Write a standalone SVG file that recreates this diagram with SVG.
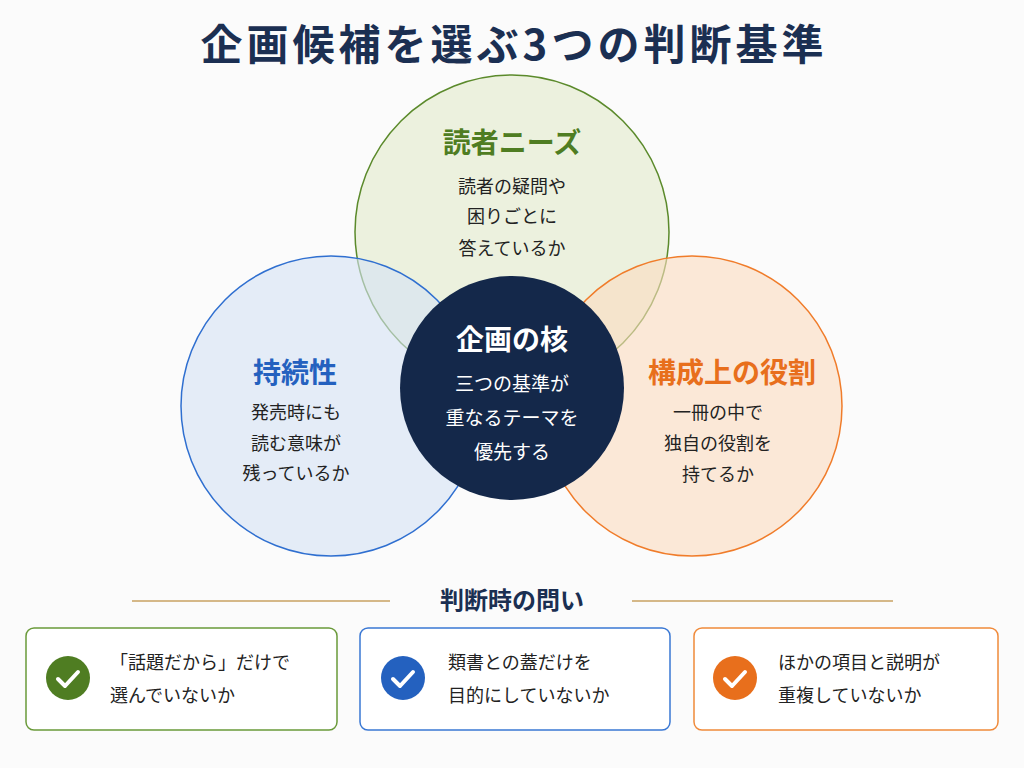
<svg xmlns="http://www.w3.org/2000/svg" width="1024" height="768" viewBox="0 0 1024 768">
<style>
text{font-family:"Noto Sans CJK JP","Noto Sans",sans-serif;text-anchor:middle}
.t{font-size:42px;font-weight:700;fill:#1b2f52;letter-spacing:4px}
.h{font-size:28px;font-weight:700}
.b{font-size:18px;fill:#222}
.w{font-size:19px;fill:#fff}
.q{font-size:18px;fill:#222;text-anchor:start}
.box{fill:#fff;stroke-width:1.5}
.ck{fill:none;stroke:#fff;stroke-width:4;stroke-linecap:round;stroke-linejoin:round}
</style>
<rect width="1024" height="768" fill="#fbfbfb"/>
<text class="t" x="514" y="60">企画候補を選ぶ3つの判断基準</text>
<g id="needs"><circle cx="512" cy="232" r="157" fill="#e3ebcc" fill-opacity="0.6" stroke="#5b8a2b" stroke-width="1.5"/></g>
<g id="sustain"><circle cx="331" cy="406" r="150" fill="#d5e3f5" fill-opacity="0.6" stroke="#2f6fd0" stroke-width="1.5"/></g>
<g id="role"><circle cx="692" cy="406" r="150" fill="#fbdcbf" fill-opacity="0.6" stroke="#f07c2a" stroke-width="1.5"/></g>
<g id="core"><circle cx="512" cy="388" r="112" fill="#14284a"/>
<text class="h" x="512" y="350" fill="#fff">企画の核</text>
<text class="w" x="512" y="391">三つの基準が</text><text class="w" x="512" y="425">重なるテーマを</text><text class="w" x="512" y="459">優先する</text></g>
<g id="labels">
<text class="h" x="512" y="153" fill="#4f7d22">読者ニーズ</text>
<text class="b" x="512" y="193">読者の疑問や</text><text class="b" x="512" y="223">困りごとに</text><text class="b" x="512" y="255">答えているか</text>
<text class="h" x="295" y="383" fill="#2461bf">持続性</text>
<text class="b" x="296" y="419">発売時にも</text><text class="b" x="296" y="450">読む意味が</text><text class="b" x="296" y="480">残っているか</text>
<text class="h" x="732" y="383" fill="#e86f1c">構成上の役割</text>
<text class="b" x="718" y="419">一冊の中で</text><text class="b" x="718" y="450">独自の役割を</text><text class="b" x="718" y="481">持てるか</text>
</g>
<g id="divider">
<line x1="132" y1="601" x2="390" y2="601" stroke="#c9a262" stroke-width="1.5"/>
<line x1="632" y1="601" x2="893" y2="601" stroke="#c9a262" stroke-width="1.5"/>
<text x="512" y="609" font-size="24" font-weight="700" fill="#1b2f52">判断時の問い</text>
</g>
<g id="q1"><rect class="box" x="26" y="628" width="311" height="102" rx="8" stroke="#6a9a3a"/>
<circle cx="68" cy="678" r="22" fill="#4f7d22"/><path class="ck" d="M58 679l7 7 13-14"/>
<text class="q" x="110" y="669">「話題だから」だけで</text><text class="q" x="110" y="702">選んでいないか</text></g>
<g id="q2"><rect class="box" x="360" y="628" width="310" height="102" rx="8" stroke="#3a78d4"/>
<circle cx="403" cy="678" r="22" fill="#2461bf"/><path class="ck" d="M393 679l7 7 13-14"/>
<text class="q" x="448" y="669">類書との蓋だけを</text><text class="q" x="448" y="702">目的にしていないか</text></g>
<g id="q3"><rect class="box" x="694" y="628" width="304" height="102" rx="8" stroke="#f08a3a"/>
<circle cx="735" cy="678" r="22" fill="#e86f1c"/><path class="ck" d="M725 679l7 7 13-14"/>
<text class="q" x="778" y="669">ほかの項目と説明が</text><text class="q" x="778" y="702">重複していないか</text></g>
</svg>
